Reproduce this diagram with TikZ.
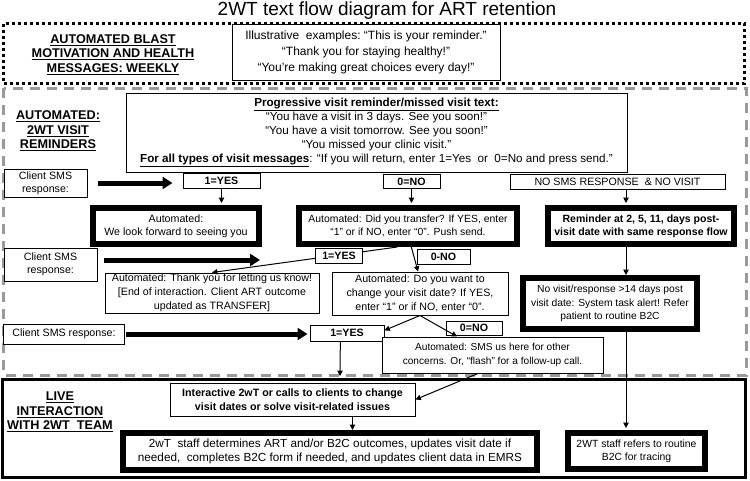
\documentclass[tikz,border=0pt]{standalone}
\usepackage{fontspec}
\setmainfont{Liberation Sans}
\usetikzlibrary{arrows.meta}
\tikzset{
  tb/.style={draw, line width=0.75pt, align=center, inner sep=0pt, fill=white},
  kb/.style={draw, line width=4.5pt, align=center, inner sep=0pt, fill=white},
  sz/.style 2 args={minimum width=#1*0.75pt, minimum height=#2*0.75pt},
  fs/.style 2 args={font=\fontsize{#1}{#2}\selectfont},
  fb/.style 2 args={font=\bfseries\fontsize{#1}{#2}\selectfont},
  sect/.style={align=center, font=\bfseries\fontsize{9.5}{10.9}\selectfont},
  thk/.style={line width=3.75pt, -{Triangle[length=7.5pt,width=9pt]}},
  thn/.style={line width=0.75pt, -{Triangle[length=4pt,width=4pt]}},
  dotbox/.style={line width=2.25pt, dash pattern=on 2.25pt off 2.25pt},
  gdash/.style={line width=2.25pt, black!40, dash pattern=on 7.5pt off 5.25pt},
  solidbox/.style={line width=2.25pt},
}
\begin{document}
\begin{tikzpicture}[x=0.75pt,y=-0.75pt]
\useasboundingbox (0,0) rectangle (750,480);
% title
\node[anchor=base, font=\fontsize{14.25}{16}\selectfont] (title) at (387,15) {2WT text flow diagram for ART retention};
% frames
\draw[solidbox] (2.5,379) rectangle (745.5,477.5);
\draw[gdash] (3.5,88) rectangle (746,375);
\draw[dotbox] (3.5,23.5) rectangle (744.5,83);
% section labels
\node[sect] (blast) at (113,54.5) {\underline{AUTOMATED BLAST}\\\underline{MOTIVATION AND HEALTH}\\\underline{MESSAGES: WEEKLY}};
\node[sect] (autolbl) at (58,131) {\underline{AUTOMATED:}\\\underline{2WT VISIT}\\\underline{REMINDERS}};
\node[sect] (livelbl) at (60,412) {\underline{LIVE}\\\underline{INTERACTION}\\\underline{WITH 2WT\ \ TEAM}};
% top boxes
\node[tb, sz={268}{56}, fs={9}{12}] (ill) at (366,52) {Illustrative\ \ examples:\ “This\ is\ your\ reminder.”\\“Thank\ you\ for\ staying\ healthy!”\\“You’re\ making\ great\ choices\ every\ day!”};
\node[tb, sz={501}{79}, fs={8.75}{10.5}] (prog) at (376.5,132.5) {\textbf{\underline{Progressive visit reminder/missed visit text:}}\\“You have a visit in 3 days. See you soon!”\\“You have a visit tomorrow. See you soon!”\\“You missed your clinic visit.”\\\textbf{\underline{For all types of visit messages}}: “If you will return, enter 1=Yes\ \ or\ \ 0=No and press send.”};
% row 1
\node[tb, sz={83}{28}, fs={8}{9.5}] (sms1) at (45.5,183) {Client SMS\\response:};
\node[tb, sz={77}{15}, fb={8}{9}] (yes1) at (221.5,180.5) {1=YES};
\node[tb, sz={57}{14}, fb={8}{9}] (no1) at (411.5,181.5) {0=NO};
\node[tb, sz={215}{15}, fs={8}{9}] (nosms) at (617.5,181.5) {NO SMS RESPONSE\ \ \&\ NO VISIT};
\node[kb, sz={166}{36}, fs={8}{9.5}] (wlf) at (176,226) {Automated:\\We look forward\ to seeing you};
\node[kb, sz={218}{36}, fs={7.8}{9.5}] (trans) at (408,226) {Automated: Did you transfer? If YES, enter\\“1” or if NO, enter “0”. Push send.};
\node[kb, sz={186}{36}, fb={7.9}{9.5}] (rem) at (641,226) {Reminder at 2, 5, 11, days post-\\visit date with same response flow};
% row 2
\node[tb, sz={93}{33}, fs={8}{9.5}] (sms2) at (50.5,264.5) {Client SMS\\response:};
\node[tb, sz={214}{40}, fs={8}{10.5}] (thank) at (212,293) {Automated: Thank\ you for letting us know!\\{[}End of interaction. Client ART outcome\\updated as TRANSFER{]}};
\node[tb, sz={176}{43}, fs={8}{10.5}] (dowant) at (420,293.5) {Automated: Do you want to\\change your visit date? If YES,\\enter “1” or if NO, enter “0”.};
\node[tb, sz={53}{15}, fb={8}{9}] (no2) at (443.5,257) {0-NO};
\node[kb, sz={174}{51}, fs={7.7}{10}] (novisit) at (610,303.5) {No visit/response >14 days post\\visit date: System task alert! Refer\\patient to routine B2C};
% row 3
\node[tb, sz={121}{20}, fs={8}{9.5}] (sms3) at (64,334) {Client SMS response:};
\node[tb, sz={74}{16}, fb={8}{9}] (yes3) at (347,333) {1=YES};
\node[tb, sz={221}{36}, fs={7.6}{10.5}] (smsus) at (492.5,355) {Automated: SMS us here for other\\concerns. Or, “flash” for a follow-up\ call.};
\node[tb, sz={56}{14}, fb={8}{9}] (no3) at (474,328) {0=NO};
% bottom
\node[tb, sz={245}{33}, fb={8}{10.5}] (inter) at (292.5,399.5) {Interactive 2wT or calls to clients to change\\visit dates or solve visit-related issues};
\node[kb, sz={414}{37}, fs={8.8}{11}] (staff1) at (330,451.5) {2wT\ \ staff determines ART and/or B2C outcomes, updates visit date if\\needed,\ \ completes B2C form if needed, and updates client data in EMRS};
\node[kb, sz={137}{36}, fs={7.8}{9.5}] (staff2) at (636.5,451) {2WT staff refers to routine\\B2C for tracing};
% coordinates
\coordinate (col) at (626,0);
\coordinate (a2) at (260,260);
\coordinate (c3) at (340,376);
% connectors
\draw[thk] ([xshift=8pt]sms1.east) -- ([xshift=-7.5pt]sms1.east -| yes1.west);
\draw[thk] ([xshift=4.5pt]sms2.east |- a2) -- (a2);
\draw[thk] ([xshift=1pt]sms3.east) -- ([xshift=-1.5pt]sms3.east -| yes3.west);
\draw[thn] (yes1.south) -- ([yshift=1.5pt]yes1.south |- wlf.north);
\draw[thn] (no1.south) -- ([yshift=1.5pt]no1.south |- trans.north);
\draw[thn] (nosms.south -| col) -- ([yshift=1.5pt]rem.north -| col);
\draw[thn] (rem.south -| col) -- (novisit.north -| col);
\draw[thn] (novisit.south -| col) -- ([yshift=1.5pt]staff2.north -| col);
\draw[thn] ([xshift=-8pt]trans.south) -- (thank.north);
\node[tb, sz={47}{15}, fb={8}{9}] (yes2) at (339,256) {1=YES};
\draw[thn] ([xshift=2.5pt]trans.south) -- ([xshift=-1.5pt]dowant.north);
\draw[thn] (dowant.south) -- ([yshift=2pt]yes3.east);
\draw[thn] (dowant.south) -- ([xshift=-26.6pt]smsus.north);
\draw[thn] ([xshift=-5pt]yes3.south) -- (c3);
\draw[thn] ([xshift=-11pt]smsus.south) -- (inter.east);
\draw[thn] ([xshift=45pt]inter.south) -- ([xshift=45pt]inter.south |- staff1.north);
\end{tikzpicture}
\end{document}
